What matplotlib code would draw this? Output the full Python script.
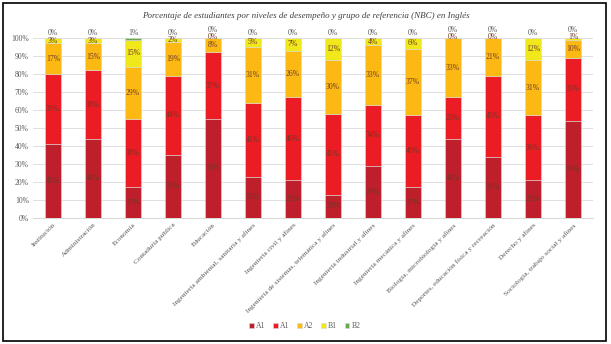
import matplotlib
matplotlib.use("Agg")
import matplotlib.pyplot as plt
import numpy as np
from matplotlib.patches import Rectangle

categories = ["Institución", "Administración", "Economía", "Contaduría pública", "Educación",
              "Ingeniería ambiental, sanitaria y afines", "Ingeniería civil y afines",
              "Ingeniería de sistemas, telemática y afines", "Ingeniería industrial y afines",
              "Ingeniería mecánica y afines", "Biología, microbiología y afines",
              "Deportes, educación física y recreación", "Derecho y afines",
              "Sociología, trabajo social y afines"]
a1_low = [41, 44, 17, 35, 55, 23, 21, 13, 29, 17, 44, 34, 21, 54]
a1 = [39, 38, 38, 44, 37, 41, 46, 45, 34, 40, 23, 45, 36, 35]
a2 = [17, 15, 29, 19, 8, 31, 26, 30, 33, 37, 33, 21, 31, 10]
b1 = [3, 3, 15, 2, 0, 5, 7, 12, 4, 6, 0, 0, 12, 1]
b2 = [0, 0, 1, 0, 0, 0, 0, 0, 0, 0, 0, 0, 0, 0]
series_names = ["A1", "A1", "A2", "B1", "B2"]
series = [a1_low, a1, a2, b1, b2]
colors = ["#BF1E2B", "#EC1C24", "#FDB913", "#F1E81C", "#6AA84F"]
yticks = [0, 10, 20, 30, 40, 50, 60, 70, 80, 90, 100]
title = "Porcentaje de estudiantes por niveles de desempeño y grupo de referencia (NBC) en Inglés"

W, H = 611, 344
fig = plt.figure(figsize=(W/100, H/100), dpi=100)
ax = fig.add_axes([33/W, 1-218/H, (593-33)/W, (218-38)/H])

serif = ["Liberation Serif", "DejaVu Serif"]
x = np.arange(len(categories))
bottom = np.zeros(len(categories))
label_color = "#6b3a2a"
for i, (vals, c, name) in enumerate(zip(series, colors, series_names)):
    vals = np.array(vals, dtype=float)
    ax.bar(x, vals, 0.4, bottom=bottom, color=c, edgecolor="#d9d9d9", linewidth=0.4,
           label=name, zorder=3)
    for j, v in enumerate(vals):
        if i == 4:
            yy = 104.6 if b1[j] < 2 else 102.6
            ax.text(x[j], yy, f"{int(v)}%", ha="center", va="center", fontsize=5.5,
                    family=serif, color="#595959", zorder=4, clip_on=False)
        elif i == 3:
            yy = bottom[j] + v/2
            if v < 2:
                yy = 100.4
            ax.text(x[j], yy, f"{int(v)}%", ha="center", va="center", fontsize=5.5,
                    family=serif, color=label_color, zorder=4, clip_on=False)
        else:
            ax.text(x[j], bottom[j] + v/2, f"{int(v)}%", ha="center", va="center",
                    fontsize=5.5, family=serif, color=label_color, zorder=4)
    bottom += vals

ax.set_xlim(-0.5, len(categories) - 0.5)
ax.set_ylim(0, 100)
ax.set_yticks(yticks)
ax.set_yticklabels([f"{t}%" for t in yticks], family=serif, fontsize=5.5, color="#595959")
ax.set_xticks(x)
ax.set_xticklabels(categories, rotation=45, ha="right", rotation_mode="anchor",
                   family=serif, fontsize=5.2, color="#595959")
ax.tick_params(axis="both", length=0, pad=3)
ax.grid(axis="y", color="#d9d9d9", linewidth=0.6, zorder=0)
for s in ["top", "right", "left"]:
    ax.spines[s].set_visible(False)
ax.spines["bottom"].set_color("#d9d9d9")

fig.text(0.5, 1-16/H, title, ha="center", va="center", family=serif, style="italic",
         fontsize=6.5, color="#404040")

leg = fig.legend(loc="center", bbox_to_anchor=(305/W, 1-326/H), ncol=5, frameon=False,
                 prop={"family": serif, "size": 5.5}, handlelength=0.6, handleheight=0.6,
                 handletextpad=0.3, columnspacing=1.0)
for t in leg.get_texts():
    t.set_color("#595959")

fig.patches.append(Rectangle((3/W, 3/H), (606-3)/W, (341-3)/H, transform=fig.transFigure,
                             fill=False, edgecolor="black", linewidth=1.2))
fig.savefig("out.png", dpi=100)
